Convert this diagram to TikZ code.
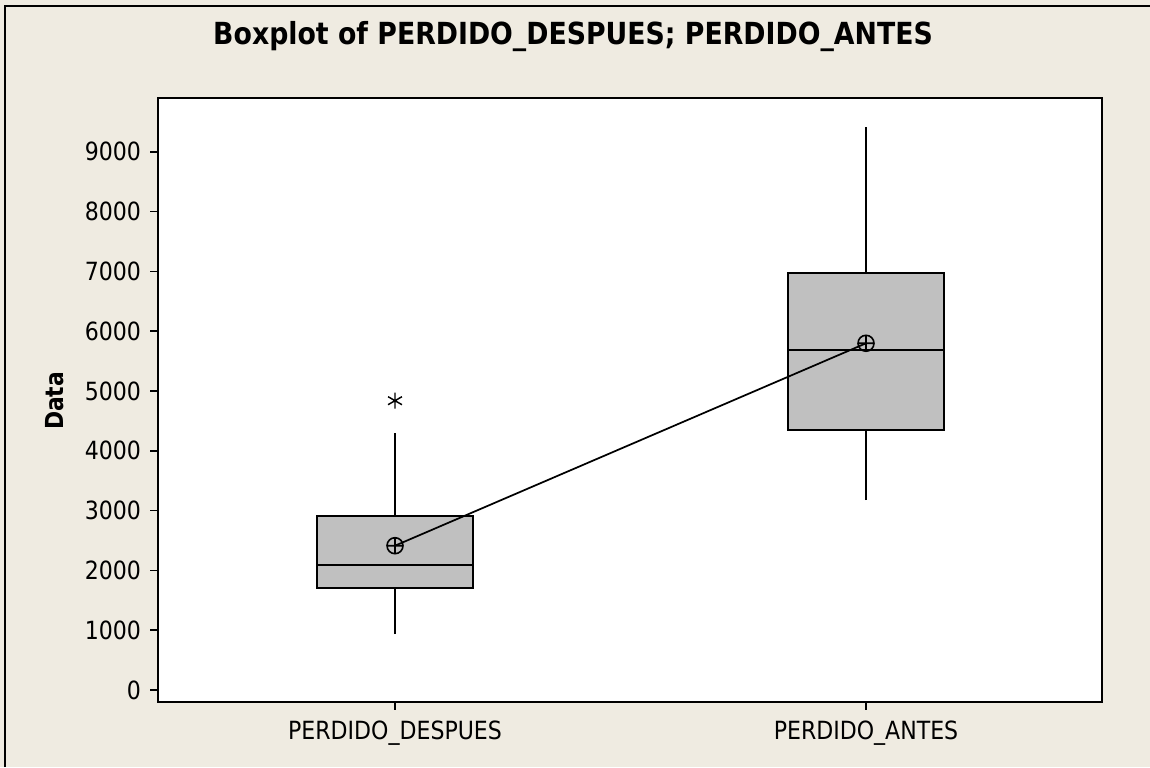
\documentclass[tikz,border=0pt]{standalone}
\usepackage{fontspec}
\setmainfont[FakeStretch=0.88]{DejaVu Sans}
\usetikzlibrary{plotmarks}
\definecolor{panel}{RGB}{239,235,225}
\definecolor{boxgray}{RGB}{192,192,192}
\tikzstyle{every node}=[inner sep=0pt]
\tikzstyle{quartbox}=[draw=black,fill=boxgray,line width=1.3pt]
\tikzstyle{whisker}=[line width=1.3pt]
\tikzstyle{ticklabel}=[font=\fontsize{18.8}{22}\selectfont]

\begin{document}
\begin{tikzpicture}[x=353.25pt, y=44.85pt]
	%background
	\useasboundingbox[fill=panel] (0.16136,-1.2876) rectangle (2.60297,11.5385);
	\draw[line width=1.5pt] (0.172,-1.2876) -- (0.172,11.438) -- (2.60297,11.438);
	%plot area
	\fill[white] (0.4962,-0.196) rectangle (2.5004,9.895);
	\coordinate (plot sw) at (0.4962,-0.196);
	\coordinate (plot ne) at (2.5004,9.895);
	%ticks
	\foreach \y/\ytext in {
		0/0,
		1/1000,
		2/2000,
		3/3000,
		4/4000,
		5/5000,
		6/6000,
		7/7000,
		8/8000,
		9/9000
	}
	\draw[line width=1.2pt] (0.4962,\y) -- ++(-6pt,0)
	node[ticklabel, anchor=east, xshift=-6pt] (ytick\y) {\ytext};
	\foreach \x/\xtext in {1/PERDIDO\_DESPUES, 2/PERDIDO\_ANTES}
	\draw[line width=1.2pt] (\x,-0.196) -- ++(0,-6pt)
	node[ticklabel, anchor=north, yshift=-7.5pt] (xtick\x) {\xtext};
	%labels
	\node[font=\fontsize{22.8}{26}\selectfont\bfseries] (title) at (1.3780,10.92) {Boxplot of PERDIDO\_DESPUES; PERDIDO\_ANTES};
	\node[rotate=90, font=\fontsize{18.6}{22}\selectfont\bfseries] (ylabel) at (0.2781,4.833) {Data};
	%boxes
	\draw[whisker] (1,0.936) -- (1,1.711) (1,2.915) -- (1,4.293);
	\draw[quartbox] (1-0.1656,1.711) rectangle (1+0.1656,2.915);
	\draw[whisker] (1-0.1656,2.085) -- (1+0.1656,2.085);
	\draw[whisker] (2,3.177) -- (2,4.348) (2,6.973) -- (2,9.42);
	\draw[quartbox] (2-0.1656,4.348) rectangle (2+0.1656,6.973);
	\draw[whisker] (2-0.1656,5.686) -- (2+0.1656,5.686);
	%outlier
	\coordinate (outlierD) at (1,4.838);
	\draw[line width=1.1pt] plot[mark=asterisk, mark size=6pt] coordinates{(outlierD)};
	%means
	\coordinate (meanD) at (1,2.413);
	\coordinate (meanA) at (2,5.798);
	\draw[line width=1.3pt] plot[mark=oplus, mark size=6pt, mark options={line width=1.2pt}]
	coordinates{(meanD) (meanA)};
	%frame
	\draw[line width=1.6pt] (plot sw) rectangle (plot ne);
\end{tikzpicture}
\end{document}
